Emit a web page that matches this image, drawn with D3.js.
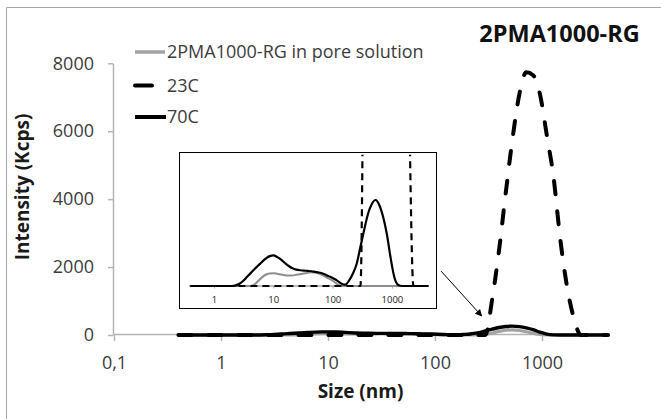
<!DOCTYPE html>
<html>
<head>
<meta charset="utf-8">
<script src="https://cdn.jsdelivr.net/npm/d3@7"></script>
<style>
  html, body { margin: 0; padding: 0; background: #fff; }
  svg { display: block; font-family: "Open Sans", "DejaVu Sans", sans-serif; }
</style>
</head>
<body>
<svg id="chart" width="661" height="419"></svg>
<script>
// DLS size bins (nm)
const sizes = [0.4, 0.4632, 0.5365, 0.6213, 0.7195, 0.8332, 0.9649, 1.117, 1.294, 1.499,
  1.736, 2.010, 2.328, 2.696, 3.122, 3.615, 4.187, 4.849, 5.615, 6.503,
  7.531, 8.721, 10.10, 11.70, 13.54, 15.69, 18.17, 21.04, 24.36, 28.21,
  32.67, 37.84, 43.82, 50.75, 58.77, 68.06, 78.82, 91.28, 105.7, 122.4,
  141.8, 164.2, 190.1, 220.2, 255.0, 295.3, 342.0, 396.1, 458.7, 531.2,
  615.1, 712.4, 825.0, 955.4, 1106, 1281, 1484, 1718, 1990, 2305,
  2669, 3091, 3580, 4145];

const seriesNames = ["2PMA1000-RG in pore solution", "23C", "70C"];

// Intensity (Kcps) per bin
const poreSolution = [0, 0, 0, 0, 0, 0, 0, 0, 0, 0,
  0, 0, 0, 0, 0, 0, 0, 5, 16, 27,
  35, 38, 39, 37, 35, 33, 32, 32, 34, 36,
  38, 40, 42, 41, 38, 33, 26, 20, 13, 5,
  0, 0, 0, 0, 0, 12, 55, 105, 140, 150,
  132, 95, 50, 14, 0, 0, 0, 0, 0, 0,
  0, 0, 0, 0];

// pore solution as plotted in the magnified panel
const poreSolutionInset = [0, 0, 0, 0, 0, 0, 0, 0, 0, 0,
  0, 0, 0, 0, 0, 0, 0, 5, 16, 27,
  35, 38, 39, 37, 35, 33, 32, 32, 34, 36,
  38, 40, 42, 41, 38, 33, 26, 20, 13, 5,
  0, 0, 0, 0, 0, 0, 0, 0, 0, 0,
  0, 0, 0, 0, 0, 0, 0, 0, 0, 0,
  0, 0, 0, 0];

const temp23C = [0, 0, 0, 0, 0, 0, 0, 0, 0, 0,
  0, 0, 0, 0, 0, 0, 0, 0, 0, 0,
  0, 0, 0, 0, 0, 0, 0, 0, 0, 0,
  0, 0, 0, 0, 0, 0, 0, 0, 0, 0,
  0, 0, 0, 0, 0, 0, 1050, 2480, 4200, 5800,
  7100, 7735, 7650, 7100, 5900, 4650, 2800, 1400, 480, 0,
  0, 0, 0, 0];

const temp70C = [0, 0, 0, 0, 0, 0, 0, 0, 0, 0,
  0, 0, 2, 7, 16, 28, 40, 52, 63, 74,
  84, 91, 93, 88, 80, 70, 61, 54, 50, 48,
  47, 46, 45, 43, 41, 38, 33, 28, 22, 15,
  7, 4, 17, 38, 68, 120, 172, 220, 250, 262,
  246, 210, 157, 84, 25, 3, 0, 0, 0, 0,
  0, 0, 0, 0];

const yTicks = [0, 2000, 4000, 6000, 8000];
const xTicks = [0.1, 1, 10, 100, 1000];
const xTickLabels = ["0,1", "1", "10", "100", "1000"];
const insetTicks = [1, 10, 100, 1000];
const insetTickLabels = ["1", "10", "100", "1000"];

const chartTitle = "2PMA1000-RG";
const xTitle = "Size (nm)";
const yTitle = "Intensity (Kcps)";

// pointer from the magnified panel to the main peak: [size nm, Kcps]
const arrowFrom = [114, 1880];
const arrowTo = [273, 560];

const svg = d3.select("#chart");
const axisGray = "#b4b4b4";
const textColor = "#3c3c3c";

// outer chart frame
svg.append("path")
  .attr("d", "M6.5,419V7.5H661")
  .attr("fill", "none")
  .attr("stroke", "#a6a6a6")
  .attr("stroke-width", 1);

// ---------- main plot ----------
const x = d3.scaleLog().domain([0.1, 4145]).range([114, 608.1]);
const y = d3.scaleLinear().domain([0, 8000]).range([335, 63.3]);

const yAxis = svg.append("g")
  .attr("transform", "translate(113,0)")
  .call(d3.axisLeft(y).tickValues(yTicks).tickSize(5).tickSizeOuter(0).tickPadding(14)
    .tickFormat(d3.format("d")));
const xAxis = svg.append("g")
  .attr("transform", "translate(0,334)")
  .call(d3.axisBottom(x).tickValues(xTicks).tickSize(7).tickSizeOuter(0).tickPadding(15)
    .tickFormat((d, i) => xTickLabels[i]));

[yAxis, xAxis].forEach(g => {
  g.select(".domain").attr("stroke", axisGray).attr("stroke-width", 1.5);
  g.selectAll(".tick line").attr("stroke", axisGray).attr("stroke-width", 1.5);
  g.selectAll(".tick text").attr("fill", textColor)
    .style("font-size", "18px").style("font-family", '"Open Sans", sans-serif');
});

// smoothed lines without overshoot below zero
const mainLine = d3.line()
  .x(d => x(d[0]))
  .y(d => y(d[1]))
  .curve(d3.curveMonotoneX);

const zipped = vals => sizes.map((s, i) => [s, vals[i]]);

svg.append("path").datum(zipped(poreSolution))
  .attr("d", mainLine).attr("fill", "none")
  .attr("stroke", "#a3a3a3").attr("stroke-width", 3.2).attr("stroke-linejoin", "round");
svg.append("path").datum(zipped(temp23C))
  .attr("d", mainLine).attr("fill", "none")
  .attr("stroke", "#000").attr("stroke-width", 4)
  .attr("stroke-dasharray", "13,17").attr("stroke-linecap", "round");
svg.append("path").datum(zipped(temp70C))
  .attr("d", mainLine).attr("fill", "none")
  .attr("stroke", "#000").attr("stroke-width", 3.4).attr("stroke-linejoin", "round");

// axis titles
svg.append("text")
  .attr("x", 360.5).attr("y", 398)
  .attr("text-anchor", "middle")
  .style("font-size", "19px").style("font-weight", "bold")
  .attr("fill", "#1a1a1a")
  .text(xTitle);
svg.append("text")
  .attr("transform", "translate(29,187) rotate(-90)")
  .attr("text-anchor", "middle")
  .style("font-size", "19px").style("font-weight", "bold")
  .attr("fill", "#1a1a1a")
  .text(yTitle);

// chart title
svg.append("text")
  .attr("x", 559.5).attr("y", 41.7)
  .attr("text-anchor", "middle")
  .style("font-size", "23.5px").style("font-weight", "bold")
  .attr("fill", "#111")
  .text(chartTitle);

// legend
const legendStyles = [
  { stroke: "#a3a3a3", width: 3.5, len: 30 },
  { stroke: "#000", width: 4, len: 17 },
  { stroke: "#000", width: 4, len: 31 }
];
const legendRows = [52, 85.5, 117];
const legend = svg.append("g");
seriesNames.forEach((name, i) => {
  const st = legendStyles[i];
  legend.append("line")
    .attr("x1", 135).attr("x2", 135 + st.len)
    .attr("y1", legendRows[i]).attr("y2", legendRows[i])
    .attr("stroke", st.stroke).attr("stroke-width", st.width)
    .attr("stroke-linecap", i === 1 ? "round" : "butt");
  legend.append("text")
    .attr("x", 167).attr("y", legendRows[i] + 6.3)
    .style("font-size", "18px")
    .attr("fill", textColor)
    .text(name);
});

// ---------- magnified panel ----------
const inset = { left: 179.5, top: 152.5, width: 257, height: 156 };
const xi = d3.scaleLog().domain([0.37, 4145]).range([188.4, 428.5]);
const yi = d3.scaleLinear().domain([0, 400]).range([286, 154.7]);

const ig = svg.append("g");
ig.append("rect")
  .attr("x", inset.left).attr("y", inset.top)
  .attr("width", inset.width).attr("height", inset.height)
  .attr("fill", "#fff").attr("stroke", "#000").attr("stroke-width", 1);

svg.append("defs").append("clipPath").attr("id", "insetClip")
  .append("rect")
  .attr("x", inset.left + 1).attr("y", yi.range()[1])
  .attr("width", inset.width - 2).attr("height", yi.range()[0] - yi.range()[1] + 20);

const insetAxis = ig.append("g")
  .attr("transform", "translate(0,285.5)")
  .call(d3.axisBottom(xi).tickValues(insetTicks).tickSize(3).tickSizeOuter(0).tickPadding(8)
    .tickFormat((d, i) => insetTickLabels[i]));
insetAxis.select(".domain").attr("stroke", "#a8a8a8").attr("stroke-width", 1.5);
insetAxis.selectAll(".tick line").attr("stroke", "#a8a8a8");
insetAxis.selectAll(".tick text").attr("fill", "#222")
  .style("font-size", "9.5px").style("font-family", '"Open Sans", sans-serif');

const insetLine = d3.line()
  .x(d => xi(d[0]))
  .y(d => yi(d[1]))
  .curve(d3.curveMonotoneX);

const series = ig.append("g").attr("clip-path", "url(#insetClip)");
series.append("path").datum(zipped(poreSolutionInset))
  .attr("d", insetLine).attr("fill", "none")
  .attr("stroke", "#8e8e8e").attr("stroke-width", 2);
series.append("path").datum(zipped(temp23C))
  .attr("d", insetLine).attr("fill", "none")
  .attr("stroke", "#000").attr("stroke-width", 2.2)
  .attr("stroke-dasharray", "7,5");
series.append("path").datum(zipped(temp70C))
  .attr("d", insetLine).attr("fill", "none")
  .attr("stroke", "#000").attr("stroke-width", 2.2).attr("stroke-linejoin", "round");

// ---------- pointer arrow ----------
svg.select("defs").append("marker")
  .attr("id", "arrowHead")
  .attr("viewBox", "0 0 10 10")
  .attr("refX", 9).attr("refY", 5)
  .attr("markerWidth", 7).attr("markerHeight", 7)
  .attr("markerUnits", "userSpaceOnUse")
  .attr("orient", "auto")
  .append("path").attr("d", "M0,0L10,5L0,10z").attr("fill", "#000");

svg.append("line")
  .attr("x1", x(arrowFrom[0])).attr("y1", y(arrowFrom[1]))
  .attr("x2", x(arrowTo[0])).attr("y2", y(arrowTo[1]))
  .attr("stroke", "#000").attr("stroke-width", 1)
  .attr("marker-end", "url(#arrowHead)");
</script>
</body>
</html>
